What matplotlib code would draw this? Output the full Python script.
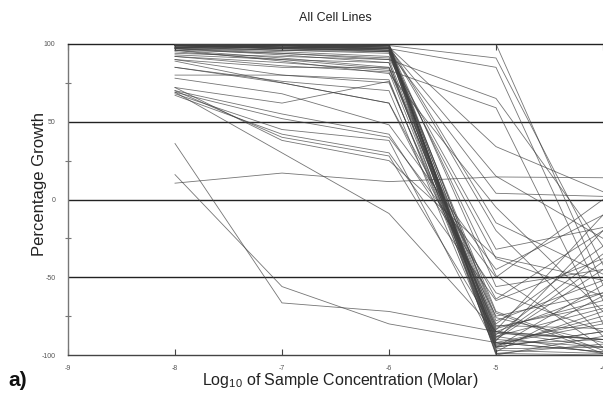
import matplotlib
matplotlib.use("Agg")
import matplotlib.pyplot as plt
import numpy as np

plt.rcParams['font.family'] = ['Liberation Sans', 'DejaVu Sans']
plt.rcParams['mathtext.default'] = 'regular'

# log10 concentrations (molar)
conc = [-8, -7, -6, -5, -4]

# percentage growth of each cell line at each concentration
pg_m8 = [100, 99, 100, 98, 99, 100, 97, 100, 99, 98, 100, 99, 97, 100, 98, 99, 100, 96, 99, 100,
         98, 97, 100, 99, 95, 98, 100, 97, 99, 96, 100, 99, 98, 94, 92, 92, 90, 85, 80, 89,
         72, 85, 78, 70, 69, 68, 67, 70, 72, 69, 90, 93, 36, 16, 10.5, 97, 99, 100, 98, 96]
pg_m7 = [99, 100, 98, 99, 97, 100, 98, 99, 98, 96, 99, 100, 93, 98, 97, 99, 97, 91, 98, 100,
         96, 94, 99, 97, 90, 99, 98, 96, 100, 89, 100, 99, 98, 92, 88, 86, 80, 76, 80, 75,
         62, 75, 68, 55, 52, 45, 42, 40, 38, 30, 85, 90, -66.5, -56, 17, 95, 97, 99, 98, 94]
pg_m6 = [98, 99, 97, 100, 96, 99, 98, 97, 95, 94, 100, 98, 88, 99, 96, 97, 95, 85, 99, 98,
         97, 90, 96, 99, 84, 98, 97, 95, 99, 81, 100, 99, 97, 90, 83, 82, 75, 70, 77, 62,
         76, 62, 48, 42, 40, 38, 30, 28, 25, -9, 85, 88, -72, -80, 11.5, 92, 98, 99, 96, 91]
pg_m5 = [-92, -95, -88, -97, -85, -90, -93, -80, -99, -86, -78, -94, -91, -83, -96, -89, -100, -84, -92, -76,
         -98, -87, -72, -95, -81, 34, 15, 4, -15, -5, 100, 91, 85, 65, 59, -90, -82, -95, -93, -64,
         -88, -75, -45, -60, -50, -95, -65, -85, -37, -85, -73, -99, -85, -92, 14.5, -32, -20, -56, -49, -38]
pg_m4 = [-98, -85, -70, -99, -60, -45, -80, -30, -100, -90, -52, -75, -20, -65, -95, -40, -88, -10, -78, -92,
         -62, -35, -97, -55, -83, 5, -25, 2, -48, -72, -55, -42, -65, -30, -80, -95, -68, -85, -90, -20,
         -99, -60, -10, -85, 0, -72, -38, -90, -52, -95, -99, -93, -90, -98, 14, -18, -88, -45, -95, -62]

curves = np.array([pg_m8, pg_m7, pg_m6, pg_m5, pg_m4]).T

fig = plt.figure(figsize=(6.03, 3.93), dpi=100)
ax = fig.add_axes([68 / 603, 1 - 355 / 393, 1 - 68 / 603, (355 - 44) / 393])

for c in curves:
    ax.plot(conc, c, color='#404040', lw=0.6, alpha=0.72, zorder=3)

for yv in [50, 0, -50]:
    ax.axhline(yv, color='#222222', lw=1.0, zorder=2)

ax.set_xlim(-9, -4.015)
ax.set_ylim(-100, 100)

ax.spines['right'].set_visible(False)
ax.spines['top'].set_color('#222222')
ax.spines['bottom'].set_color('#444444')
ax.spines['left'].set_color('#777777')
for s in ['top', 'bottom', 'left']:
    ax.spines[s].set_linewidth(1.0)

ax.set_xticks([-9, -8, -7, -6, -5, -4])
ax.set_xticklabels(['-9', '-8', '-7', '-6', '-5', '-4'])
ax.set_yticks([-100, -50, 0, 50, 100])
ax.set_yticklabels(['-100', '-50', '0', '50', '100'])
ax.set_yticks([-75, -25, 25, 75], minor=True)
ax.tick_params(axis='x', which='major', direction='in', length=4, width=0.8, color='#444444',
               labelsize=5, labelcolor='#555555', pad=7, top=True)
ax.tick_params(axis='y', which='major', length=0, labelsize=5, labelcolor='#555555', pad=9)
ax.tick_params(axis='y', which='minor', direction='inout', length=5, width=0.8, color='#777777')
ax.tick_params(axis='x', which='major', top=True, labeltop=False)

fig.text(40 / 603, 1 - 184 / 393, 'Percentage Growth', rotation=90, ha='center', va='center',
         fontsize=12, color='#222222')
fig.text(340 / 603, 1 - 380 / 393, 'Log$_{10}$ of Sample Concentration (Molar)', ha='center', va='center',
         fontsize=11.5, color='#222222')
fig.text(335 / 603, 1 - 18 / 393, 'All Cell Lines', ha='center', va='center', fontsize=9, color='#222222')
fig.text(0.014, 1 - 381 / 393, 'a)', ha='left', va='center', fontsize=15, fontweight='bold', color='#111111')

fig.savefig('out.png', dpi=100)
